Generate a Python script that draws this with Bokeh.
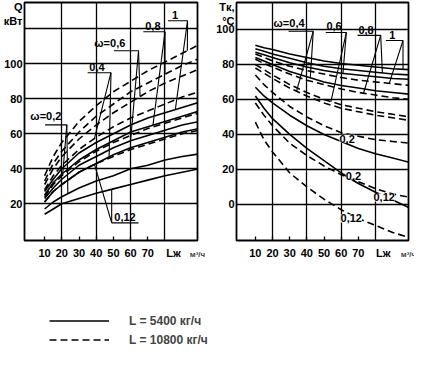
import numpy as np
from bokeh.plotting import figure
from bokeh.models import Range1d, FixedTicker, Label, Legend, LegendItem
from bokeh.layouts import column, row
from bokeh.embed import file_html
from bokeh.resources import INLINE

FONT = "Liberation Sans"

# ---------------- data ----------------
L_pts = [10, 15, 20, 30, 40, 50, 60, 70, 80, 90, 100]   # Lж, м3/ч
x_ticks = [10, 20, 30, 40, 50, 60, 70]

# left panel: Q, кВт   (solid: L = 5400 кг/ч, dashed: L = 10800 кг/ч)
q_solid_1    = [27, 34, 40, 49, 55, 60, 65, 69, 72, 75, 78]
q_solid_08   = [25, 32, 37, 45, 51, 56, 61, 64, 67, 70, 73]
q_solid_06   = [23, 29, 34, 42, 47, 52, 56, 59, 62, 65, 67]
q_solid_04   = [21, 27, 31, 38, 43, 48, 52, 55, 58, 61, 63]
q_solid_02   = [17, 21, 24, 29, 33, 36, 40, 42, 45, 47, 48.5]
q_solid_012  = [14, 17, 20, 23, 26, 28.5, 31, 33.5, 36, 38, 40]
q_dash_1     = [36, 47, 55, 67, 76, 84, 90, 96, 101, 106, 111]
q_dash_08    = [33, 43, 50, 61, 70, 77, 84, 89, 94, 99, 103]
q_dash_06    = [31, 40, 47, 57, 65, 72, 78, 84, 89, 93, 97]
q_dash_04    = [28, 36, 42, 51, 58, 64, 69, 73, 77, 81, 84]
q_dash_02    = [24, 31, 36, 44, 50, 55, 59, 63, 66, 69, 72]
q_dash_012   = [21, 27, 31, 38, 43, 47, 51, 54, 57, 60, 62]

# right panel: Tк, °C
t_solid_1    = [91, 89.5, 88.5, 86, 84, 82, 80.5, 79.5, 78.5, 77.5, 77]
t_solid_08   = [89, 87.5, 86, 83.5, 81, 79, 77.5, 76.5, 75.5, 74.5, 74]
t_solid_06   = [87, 85.5, 84, 81, 78.5, 76.5, 75, 74, 73, 72, 71.5]
t_solid_04   = [84, 82, 80, 76, 73, 70, 68, 66.5, 65, 64, 63]
t_solid_02   = [67, 62, 58, 51, 45, 40, 36, 32, 29, 26.5, 24]
t_solid_012  = [62, 55, 49, 40, 32, 25, 18, 12, 7, 2.5, -2]
t_dash_1     = [86, 84, 82, 79, 76.5, 74.5, 72.5, 71, 70, 69, 68]
t_dash_08    = [83, 80.5, 78.5, 74.5, 71, 68.5, 66, 64, 62.5, 61, 60]
t_dash_06    = [80, 77, 74, 68.5, 64, 60, 57, 55, 53, 51.5, 50]
t_dash_04    = [78, 75, 72, 66.5, 62, 58, 55, 53, 51, 49.5, 48]
t_dash_02    = [74, 68.5, 64, 56, 50, 45, 41, 39, 37, 36, 35]
t_dash_02b   = [58, 51, 45, 35, 28, 22, 17, 13, 9, 6, 4]
t_dash_012   = [47, 37, 30, 18, 10, 3, -3, -8, -12, -16, -19]

q_ticks = [20, 40, 60, 80, 100]
q_grid = [20, 40, 60, 80, 100, 120]
t_ticks = [0, 20, 40, 60, 80, 100]
v_grid = [20, 40, 60, 80]

x_name = "Lж"
x_unit = "м³/ч"
q_name = "Q\nкВт"
t_name = "Tк,\n°C"
legend_labels = ["L = 5400 кг/ч", "L = 10800 кг/ч"]

DASH = "7 4"
LW = 1.6


def base_panel(width, border_left, border_right, x_range, y_range, y_ticks, y_grid,
               x_extra, y_extra):
    p = figure(width=width, height=272, x_range=Range1d(*x_range), y_range=Range1d(*y_range),
               toolbar_location=None, output_backend="svg",
               min_border_left=border_left, min_border_right=border_right,
               min_border_top=2, min_border_bottom=32)
    p.outline_line_color = "black"
    p.outline_line_width = 1.8
    p.background_fill_color = "white"
    p.border_fill_color = "white"
    p.xaxis.ticker = FixedTicker(ticks=list(x_ticks) + [x_extra[0]], minor_ticks=x_ticks)
    p.yaxis.ticker = FixedTicker(ticks=list(y_ticks) + [y_extra[0]])
    p.xaxis.major_label_overrides = {x_extra[0]: x_extra[1]}
    p.yaxis.major_label_overrides = {y_extra[0]: y_extra[1]}
    p.xgrid.ticker = FixedTicker(ticks=v_grid)
    p.ygrid.ticker = FixedTicker(ticks=y_grid)
    for g in (p.xgrid, p.ygrid):
        g.grid_line_color = "black"
        g.grid_line_width = 1.3
        g.grid_line_alpha = 1
    for ax in (p.xaxis, p.yaxis):
        ax.axis_line_color = None
        ax.major_label_text_font = FONT
        ax.major_label_text_font_style = "bold"
        ax.major_label_text_font_size = "11px"
        ax.major_label_text_color = "black"
        ax.major_tick_in = 0
        ax.major_tick_out = 0
    p.xaxis.minor_tick_in = 4
    p.xaxis.minor_tick_out = 0
    p.xaxis.minor_tick_line_color = "black"
    p.xaxis.minor_tick_line_width = 1.3
    p.yaxis.minor_tick_line_color = None
    p.xaxis.major_label_standoff = 6
    p.yaxis.major_label_standoff = 2
    # unit of Lж as a small superscript at the right end of the axis
    p.xaxis.axis_label = x_unit
    p.xaxis.axis_label_text_font = FONT
    p.xaxis.axis_label_text_font_size = "8px"
    p.xaxis.axis_label_text_font_style = "bold"
    p.xaxis.axis_label_align = "end"
    p.xaxis.axis_label_standoff = -12
    return p


def txt(p, x, y, text, size="11px", align="left", baseline="middle", bg=None):
    lab = Label(x=x, y=y, text=text, text_font=FONT, text_font_size=size,
                text_font_style="bold", text_align=align, text_baseline=baseline,
                text_color="black")
    if bg:
        lab.background_fill_color = bg
        lab.background_fill_alpha = 1
    p.add_layout(lab)


def leader(p, x0, x1, y0, targets):
    """underline from x0 to x1 at y0, then lines from (x1, y0) to points on curves"""
    xs = [[x0, x1]]
    ys = [[y0, y0]]
    for lt, series in targets:
        xs.append([x1, lt])
        ys.append([y0, float(np.interp(lt, L_pts, series))])
    p.multi_line(xs, ys, line_color="black", line_width=1.1)


# ---------------- left panel ----------------
p1 = base_panel(205, 21, 8, (-1.7, 98.9), (-1, 135), q_ticks, q_grid,
                x_extra=(85.0, x_name), y_extra=(130.0, q_name))
for s in [q_solid_1, q_solid_08, q_solid_06, q_solid_04, q_solid_02, q_solid_012]:
    p1.line(L_pts, s, line_color="black", line_width=LW)
for s in [q_dash_1, q_dash_08, q_dash_06, q_dash_04, q_dash_02, q_dash_012]:
    p1.line(L_pts, s, line_color="black", line_width=LW, line_dash=DASH)

leader(p1, 10.3, 22.9, 65.1, [(20.5, q_dash_02), (23.5, q_solid_02)])
txt(p1, 1.7, 66.5, "ω=0,2", baseline="bottom")
leader(p1, 35.0, 48.6, 94.9, [(39, q_dash_04), (47.5, q_solid_04)])
txt(p1, 36.0, 96.0, "0,4", baseline="bottom")
leader(p1, 50.3, 64.6, 107.4, [(65.5, q_dash_06), (60, q_solid_06)])
txt(p1, 38.9, 108.5, "ω=0,6", baseline="bottom")
leader(p1, 67.4, 80.0, 118.3, [(80, q_dash_08), (73, q_solid_08)])
txt(p1, 68.5, 119.3, "0,8", baseline="bottom")
leader(p1, 81.7, 93.1, 124.6, [(93, q_dash_1), (86, q_solid_1)])
txt(p1, 84.0, 125.6, "1", baseline="bottom")
leader(p1, 64.6, 49.0, 9.1, [(39, q_dash_012), (49, q_solid_012)])
txt(p1, 50.5, 10.0, "0,12", baseline="bottom")

# ---------------- right panel ----------------
p2 = base_panel(209, 31, 6, (-1.0, 99.2), (-20.6, 115.4), t_ticks, t_ticks,
                x_extra=(84.5, x_name), y_extra=(109.0, t_name))
for s in [t_solid_1, t_solid_08, t_solid_06, t_solid_04, t_solid_02, t_solid_012]:
    p2.line(L_pts, s, line_color="black", line_width=LW)
for s in [t_dash_1, t_dash_08, t_dash_06, t_dash_04, t_dash_02, t_dash_02b, t_dash_012]:
    p2.line(L_pts, s, line_color="black", line_width=LW, line_dash=DASH)

leader(p2, 29.3, 43.7, 99.0, [(34, t_dash_04), (42, t_solid_04)])
txt(p2, 20.6, 100.0, "ω=0,4", baseline="bottom")
leader(p2, 51.0, 63.0, 98.3, [(54, t_dash_06), (61, t_solid_06)])
txt(p2, 51.4, 99.5, "0,6", baseline="bottom")
leader(p2, 69.5, 83.0, 96.6, [(73, t_dash_08), (84, t_solid_08)])
txt(p2, 70.0, 97.6, "0,8", baseline="bottom")
leader(p2, 86.0, 96.0, 93.7, [(88, t_dash_1), (96, t_solid_1)])
txt(p2, 88.0, 94.7, "1", baseline="bottom")

txt(p2, 59.0, 37.5, "0,2", bg="white")
txt(p2, 62.7, 16.5, "0,2", bg="white")
txt(p2, 78.8, 4.0, "0,12", bg="white")
txt(p2, 59.6, -8.0, "0,12", bg="white")

# ---------------- legend ----------------
p3 = figure(width=414, height=79, x_range=Range1d(0, 414), y_range=Range1d(0, 79),
            toolbar_location=None, output_backend="svg", min_border=0,
            x_axis_type=None, y_axis_type=None)
p3.grid.visible = False
p3.outline_line_color = None
# legend sample renderers (kept outside the visible range; only their legend glyphs show)
r1 = p3.line([-20, -10], [-20, -20], line_color="black", line_width=LW)
r2 = p3.line([-20, -10], [-20, -20], line_color="black", line_width=LW, line_dash=DASH)
leg = Legend(items=[LegendItem(label=legend_labels[0], renderers=[r1]),
                    LegendItem(label=legend_labels[1], renderers=[r2])],
             location=(49, 2), glyph_width=60, glyph_height=19, label_height=19,
             spacing=0, padding=0, margin=0, label_standoff=20,
             border_line_color=None, background_fill_alpha=0,
             label_text_font=FONT, label_text_font_size="12px",
             label_text_font_style="bold")
p3.add_layout(leg)

layout = column(row(p1, p2), p3)
open("out.html", "w").write(file_html(layout, INLINE))
